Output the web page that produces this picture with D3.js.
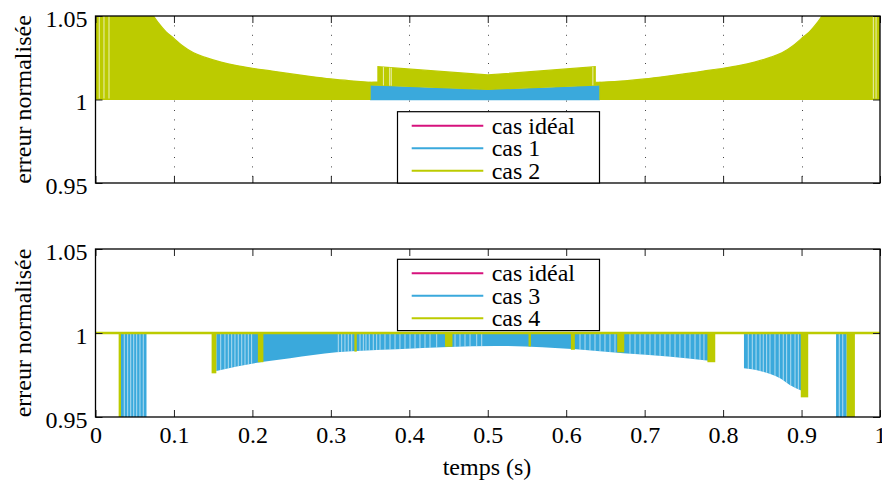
<!DOCTYPE html>
<html><head><meta charset="utf-8">
<script src="https://cdn.jsdelivr.net/npm/d3@7"></script>
<style>
body{margin:0;background:#fff}
svg{display:block}
text{font-family:"Liberation Serif","Times New Roman",serif;font-size:24px;fill:#000}
</style>
</head><body><svg id="c" width="882" height="481"></svg>
<script>
// ---------- data ----------
const xTickValues = [0,0.1,0.2,0.3,0.4,0.5,0.6,0.7,0.8,0.9,1];
const xTickLabels = ["0","0.1","0.2","0.3","0.4","0.5","0.6","0.7","0.8","0.9","1"];
const yTickValues = [0.95,1,1.05];
const yTickLabels = ["0.95","1","1.05"];
const yLabel = "erreur normalisée";
const xLabel = "temps (s)";
const topLegend = ["cas idéal","cas 1","cas 2"];
const bottomLegend = ["cas idéal","cas 3","cas 4"];
const colIdeal = "#d6127d", colBlue = "#3aa9dc", colGreen = "#bccb00";

// top panel: cas 2 (upper envelope of the fast oscillation), in three pieces
// (values beyond 1.05 are estimates of the clipped part)
const cas2LeftT  = [0,    0.03, 0.05,  0.065, 0.074,0.08,  0.09,  0.1,   0.11,  0.125, 0.14,  0.16,  0.18,  0.2,   0.225, 0.25,  0.275, 0.3,   0.325, 0.35];
const cas2LeftHi = [1.30, 1.12, 1.075, 1.058, 1.05, 1.046, 1.0405,1.0366,1.0325,1.028, 1.0252,1.0224,1.0203,1.0187,1.017, 1.0153,1.0137,1.0123,1.0112,1.0103];
const cas2MidT   = [0.35,  0.36,  0.36,  0.5,   0.637, 0.637, 0.643];
const cas2MidLo  = [1.0087,1.0086,1.0086,1.0061,1.0086,1.0086,1.0087];
const cas2MidHi  = [1.0103,1.0105,1.0196,1.0147,1.0196,1.0104,1.0103];
const cas2RightT  = [0.643, 0.675, 0.7,   0.725, 0.75,  0.775, 0.8,   0.82,  0.84,  0.86,  0.875, 0.89,  0.9,   0.91,  0.92,  0.926, 0.935, 0.95,  0.97, 1];
const cas2RightHi = [1.0103,1.0112,1.0123,1.0137,1.0153,1.017, 1.0187,1.0203,1.0224,1.0252,1.028, 1.0325,1.0366,1.0405,1.046, 1.05,  1.058, 1.075, 1.12, 1.30];
const cas2Gaps = [0.0048,0.0108,0.0172,0.367,0.375,0.377,0.634,0.9915,0.995];
// top panel: cas 1 band
const cas1T  = [0.35,  0.42,  0.5,   0.58,  0.643];
const cas1Hi = [1.0087,1.0073,1.0061,1.0073,1.0087];

// bottom panel: cas 3 segments (lower envelope)
const cas3T = [
  [0.0325,0.065],
  [0.154,0.18,0.206,0.214,0.248,0.307,0.384,0.45,0.51,0.613,0.673,0.73,0.782],
  [0.8266,0.847,0.8726,0.885,0.8995],
  [0.944,0.9575]
];
const cas3Lo = [
  [0.95,0.95],
  [0.9774,0.980,0.9823,0.9829,0.985,0.9885,0.9903,0.9917,0.9923,0.9903,0.9879,0.986,0.9835],
  [0.979,0.9774,0.973,0.969,0.9657],
  [0.95,0.95]
];
const cas3Gaps = [0.0367,0.041,0.0449,0.0487,0.0525,0.0567,0.0609,
  0.1596,0.165,0.1693,0.1736,0.1778,0.182,0.1864,0.1906,0.1948,0.199,
  0.3095,0.3138,0.318,0.3222,0.3266,0.3372,0.3414,0.3448,0.349,0.3541,0.3584,0.3627,0.369,0.3754,0.3818,0.3881,0.3945,0.4009,0.4073,0.4136,0.42,0.4264,0.4349,
  0.4583,0.4646,0.471,0.4774,0.4859,0.4923,
  0.6176,0.624,0.6303,0.6367,0.6431,0.6494,0.6558,0.6622,
  0.6813,0.6877,0.6941,0.7004,0.7068,0.7132,0.7196,0.7259,0.7323,0.7387,0.745,0.7514,0.7578,0.7642,0.7705,0.7756,
  0.8321,0.8372,0.842,0.8471,0.8512,0.8555,0.8598,0.8661,0.8716,0.8767,0.881,0.8862,0.8917,0.8959,
  0.9481,0.9525];
// bottom panel: cas 4 spikes
const cas4Start = [0.0295,0.148,0.207,0.330,0.4455,0.552,0.606,0.665,0.780,0.899,0.9575];
const cas4End   = [0.0325,0.154,0.214,0.333,0.455, 0.555,0.611,0.674,0.790,0.9085,0.968];
const cas4Lo    = [0.95,  0.976,0.9826,0.9889,0.9918,0.992,0.990,0.9885,0.9826,0.9617,0.95];

// ---------- layout ----------
const svg = d3.select("#c");
const X0 = 95.5, X1 = 880;
const panels = [{top:16,bottom:183},{top:249,bottom:417}];
const x = d3.scaleLinear().domain([0,1]).range([X0,X1]);
const ys = panels.map(p => d3.scaleLinear().domain([0.95,1.05]).range([p.bottom,p.top]));

panels.forEach((p,i)=>{
  svg.append("clipPath").attr("id","plot"+i).append("rect")
    .attr("x",X0).attr("y",p.top).attr("width",X1-X0).attr("height",p.bottom-p.top);
});

// ---------- top panel ----------
(function(){
  const y = ys[0], p = panels[0];
  const g = svg.append("g");
  const grid = g.append("g").attr("stroke","#444").attr("stroke-width",1).attr("stroke-dasharray","1,8.4");
  grid.selectAll("line.v").data(xTickValues.slice(1,-1)).enter().append("line")
    .attr("x1",d=>Math.round(x(d))+0.5).attr("x2",d=>Math.round(x(d))+0.5).attr("y1",p.top).attr("y2",p.bottom);
  grid.append("line").attr("x1",X0).attr("x2",X1).attr("y1",y(1)).attr("y2",y(1));

  const d = g.append("g").attr("clip-path","url(#plot0)");
  d.append("line").attr("x1",X0).attr("x2",X1).attr("y1",y(1)).attr("y2",y(1)).attr("stroke",colIdeal).attr("stroke-width",1);
  const blueArea = d3.area().x(i=>x(cas1T[i])).y0(()=>y(1)+0.8).y1(i=>y(cas1Hi[i]));
  d.append("path").attr("d",blueArea(d3.range(cas1T.length))).attr("fill",colBlue);

  const sideArea = (ts,hs)=> d3.area().curve(d3.curveMonotoneX)
    .x(i=>x(ts[i])).y0(()=>y(1)).y1(i=>y(hs[i]))(d3.range(ts.length));
  const midArea = d3.area().x(i=>x(cas2MidT[i])).y0(i=>y(cas2MidLo[i])).y1(i=>y(cas2MidHi[i]))(d3.range(cas2MidT.length));
  const paths = [sideArea(cas2LeftT,cas2LeftHi), midArea, sideArea(cas2RightT,cas2RightHi)];
  const gc = svg.append("clipPath").attr("id","gclip");
  paths.forEach(pp=>{
    d.append("path").attr("d",pp).attr("fill",colGreen).attr("stroke",colGreen).attr("stroke-width",1.2);
    gc.append("path").attr("d",pp);
  });
  d.append("g").attr("clip-path","url(#gclip)").selectAll("line").data(cas2Gaps).enter().append("line")
    .attr("x1",t=>x(t)).attr("x2",t=>x(t)).attr("y1",p.top).attr("y2",y(1)-1)
    .attr("stroke","#fff").attr("stroke-opacity",0.7).attr("stroke-width",1);
})();

// ---------- bottom panel ----------
(function(){
  const y = ys[1];
  const d = svg.append("g").attr("clip-path","url(#plot1)");
  d.append("line").attr("x1",X0).attr("x2",X1).attr("y1",y(1)).attr("y2",y(1)).attr("stroke",colIdeal).attr("stroke-width",2);
  const cp = svg.append("clipPath").attr("id","bclip");
  cas3T.forEach((ts,k)=>{
    const a = d3.area().curve(d3.curveMonotoneX).x(i=>x(ts[i])).y0(()=>y(1)).y1(i=>y(cas3Lo[k][i]));
    const path = a(d3.range(ts.length));
    d.append("path").attr("d",path).attr("fill",colBlue);
    cp.append("path").attr("d",path);
  });
  d.append("g").attr("clip-path","url(#bclip)").selectAll("line").data(cas3Gaps).enter().append("line")
    .attr("x1",t=>x(t)).attr("x2",t=>x(t)).attr("y1",y(1.05)).attr("y2",y(0.95))
    .attr("stroke","#fff").attr("stroke-opacity",0.6).attr("stroke-width",1);
  d.selectAll("rect.s").data(d3.range(cas4Start.length)).enter().append("rect")
    .attr("x",i=>x(cas4Start[i])).attr("width",i=>Math.max(1.5,x(cas4End[i])-x(cas4Start[i])))
    .attr("y",y(1)).attr("height",i=>y(cas4Lo[i])-y(1)).attr("fill",colGreen);
  d.append("line").attr("x1",X0).attr("x2",X1).attr("y1",y(1)).attr("y2",y(1)).attr("stroke",colGreen).attr("stroke-width",2.6);
})();

// ---------- axes ----------
panels.forEach((p,pi)=>{
  const y = ys[pi];
  const ax = svg.append("g");
  ax.append("g").attr("transform",`translate(0,${p.bottom})`)
    .call(d3.axisBottom(x).tickValues(xTickValues).tickSizeInner(-7).tickSizeOuter(0).tickPadding(9)
      .tickFormat((d,i)=> pi===1 ? xTickLabels[i] : ""));
  ax.append("g").attr("transform",`translate(0,${p.top})`)
    .call(d3.axisTop(x).tickValues(xTickValues).tickSizeInner(-7).tickSizeOuter(0).tickFormat(""));
  const left = ax.append("g").attr("transform",`translate(${X0},0)`)
    .call(d3.axisLeft(y).tickValues(yTickValues).tickSizeInner(-7).tickSizeOuter(0).tickPadding(8)
      .tickFormat((d,i)=>yTickLabels[i]));
  ax.append("g").attr("transform",`translate(${X1},0)`)
    .call(d3.axisRight(y).tickValues(yTickValues).tickSizeInner(-7).tickSizeOuter(0).tickFormat(""));
  ax.selectAll(".domain").remove();
  ax.selectAll(".tick line").attr("stroke","#222").attr("stroke-width",1);
  ax.selectAll("text").attr("font-size",24).attr("font-family","Liberation Serif, Times New Roman, serif").attr("fill","#000");
  left.selectAll("text").attr("dy",null).attr("y",10);
  svg.append("rect").attr("x",X0).attr("y",p.top).attr("width",X1-X0).attr("height",p.bottom-p.top)
    .attr("fill","none").attr("stroke","#000").attr("stroke-width",1.3);
  svg.append("text").attr("transform",`translate(31,${(p.top+p.bottom)/2}) rotate(-90)`)
    .attr("text-anchor","middle").text(yLabel);
});
svg.append("text").attr("x",487).attr("y",475).attr("text-anchor","middle").text(xLabel);

// ---------- legends ----------
[[topLegend,111.7],[bottomLegend,259.3]].forEach(([labels,top])=>{
  const lg = svg.append("g");
  lg.append("rect").attr("x",397.5).attr("y",top).attr("width",202).attr("height",71.3)
    .attr("fill","#fff").attr("stroke","#000").attr("stroke-width",1.2);
  const cols = [colIdeal,colBlue,colGreen];
  labels.forEach((lab,i)=>{
    const yy = top + 14 + i*22.5;
    lg.append("line").attr("x1",411.7).attr("x2",483.3).attr("y1",yy).attr("y2",yy).attr("stroke",cols[i]).attr("stroke-width",2);
    lg.append("text").attr("x",491.7).attr("y",yy+8).text(lab);
  });
});
</script>
</body></html>
